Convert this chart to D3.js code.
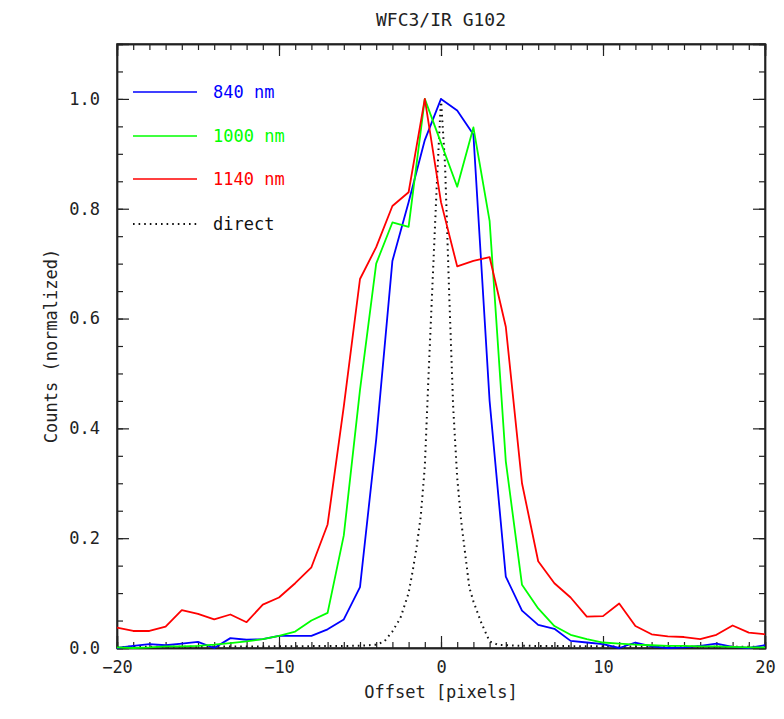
<!DOCTYPE html>
<html>
<head>
<meta charset="utf-8">
<script src="https://cdn.jsdelivr.net/npm/d3@7"></script>
<style>
  body { margin: 0; background: #fff; }
  svg { display: block; font-family: "DejaVu Sans Mono", monospace; }
  .axis path { stroke: #222; stroke-width: 1.4; }
  .axis line { stroke: #222; stroke-width: 1.2; }
  .axis text { font-size: 17px; fill: #222; font-family: "DejaVu Sans Mono", monospace; }
</style>
</head>
<body>
<svg class="chart"></svg>
<script>
const width = 784;
const height = 719;

// pixel offsets (integer samples)
const offsets = d3.range(-20, 21);

const blue840 = [0.0, 0.004, 0.007, 0.005, 0.008, 0.011, 0.0, 0.018, 0.015, 0.016,
  0.022, 0.022, 0.022, 0.034, 0.052, 0.111, 0.38, 0.705, 0.812, 0.925,
  1.0, 0.979, 0.935, 0.45, 0.13, 0.068, 0.042, 0.035, 0.013, 0.01,
  0.007, 0.0, 0.01, 0.003, 0.0, 0.001, 0.004, 0.008, 0.002, 0.0, 0.005];

const green1000 = [0.001, 0.0, 0.001, 0.003, 0.003, 0.004, 0.006, 0.009, 0.012, 0.016,
  0.022, 0.03, 0.05, 0.064, 0.205, 0.47, 0.70, 0.775, 0.767, 1.0,
  0.92, 0.84, 0.948, 0.778, 0.34, 0.115, 0.072, 0.04, 0.024, 0.016,
  0.01, 0.008, 0.006, 0.005, 0.004, 0.004, 0.003, 0.003, 0.002, 0.001, 0.001];

const red1140 = [0.037, 0.031, 0.031, 0.039, 0.069, 0.062, 0.052, 0.061, 0.047, 0.079,
  0.092, 0.118, 0.147, 0.225, 0.44, 0.672, 0.73, 0.805, 0.83, 1.0,
  0.812, 0.695, 0.705, 0.712, 0.585, 0.30, 0.158, 0.118, 0.092, 0.057,
  0.058, 0.081, 0.04, 0.025, 0.021, 0.02, 0.016, 0.024, 0.041, 0.028, 0.025];

// direct image profile (finer sampling)
const directX = [-20, -10, -5, -4, -3.5, -3, -2.5, -2, -1.75, -1.5, -1.25, -1, -0.75, -0.5, -0.25,
  0, 0.25, 0.5, 0.75, 1, 1.25, 1.5, 1.75, 2, 2.5, 3, 3.5, 4, 5, 10, 20];
const directY = [0.002, 0.003, 0.004, 0.006, 0.012, 0.03, 0.055, 0.1, 0.14, 0.185, 0.24, 0.33, 0.51, 0.68, 0.85,
  1.0, 0.88, 0.65, 0.44, 0.31, 0.23, 0.17, 0.11, 0.085, 0.045, 0.012, 0.006, 0.005, 0.004, 0.003, 0.002];

const xMajor = [-20, -10, 0, 10, 20];
const yMajor = [0, 0.2, 0.4, 0.6, 0.8, 1.0];

const series = [
  {name: "840 nm", color: "#0000ff", values: blue840},
  {name: "1000 nm", color: "#00ff00", values: green1000},
  {name: "1140 nm", color: "#ff0000", values: red1140}
];

const margin = {top: 44, right: 19, bottom: 71, left: 117};

const x = d3.scaleLinear().domain([-20, 20]).range([margin.left, width - margin.right]);
const y = d3.scaleLinear().domain([0, 1.1]).range([height - margin.bottom, margin.top]);

const svg = d3.select(".chart")
    .attr("width", width)
    .attr("height", height)
    .attr("viewBox", [0, 0, width, height]);

const fmtX = d => d < 0 ? "\u2212" + Math.abs(d) : String(d);
const yMinor = d3.range(0, 23).map(i => i * 0.05);

// bottom / top axes
svg.append("g").attr("class", "axis xaxis")
    .attr("transform", `translate(0,${y(0)})`)
    .call(d3.axisBottom(x).tickValues(xMajor).tickSize(-12).tickPadding(13).tickFormat(fmtX));
svg.append("g").attr("class", "axis")
    .attr("transform", `translate(0,${y(0)})`)
    .call(d3.axisBottom(x).tickValues(offsets).tickSize(-6).tickFormat(""));
svg.append("g").attr("class", "axis")
    .attr("transform", `translate(0,${y(1.1)})`)
    .call(d3.axisTop(x).tickValues(xMajor).tickSize(-12).tickFormat(""));
svg.append("g").attr("class", "axis")
    .attr("transform", `translate(0,${y(1.1)})`)
    .call(d3.axisTop(x).tickValues(offsets).tickSize(-6).tickFormat(""));

// left / right axes
svg.append("g").attr("class", "axis")
    .attr("transform", `translate(${x(-20)},0)`)
    .call(d3.axisLeft(y).tickValues(yMajor).tickSize(-12).tickPadding(17).tickFormat(d3.format(".1f")));
svg.append("g").attr("class", "axis")
    .attr("transform", `translate(${x(-20)},0)`)
    .call(d3.axisLeft(y).tickValues(yMinor).tickSize(-6).tickFormat(""));
svg.append("g").attr("class", "axis")
    .attr("transform", `translate(${x(20)},0)`)
    .call(d3.axisRight(y).tickValues(yMajor).tickSize(-12).tickFormat(""));
svg.append("g").attr("class", "axis")
    .attr("transform", `translate(${x(20)},0)`)
    .call(d3.axisRight(y).tickValues(yMinor).tickSize(-6).tickFormat(""));

// frame
svg.append("rect")
    .attr("x", x(-20)).attr("y", y(1.1))
    .attr("width", x(20) - x(-20)).attr("height", y(0) - y(1.1))
    .attr("fill", "none").attr("stroke", "#222").attr("stroke-width", 1.5);

const line = d3.line().x(d => x(d[0])).y(d => y(d[1]));

svg.append("path")
    .datum(directX.map((d, i) => [d, directY[i]]))
    .attr("fill", "none")
    .attr("stroke", "#111")
    .attr("stroke-width", 2)
    .attr("stroke-dasharray", "1.6,4")
    .attr("d", line);

series.forEach(s => {
  svg.append("path")
      .datum(offsets.map((d, i) => [d, s.values[i]]))
      .attr("fill", "none")
      .attr("stroke", s.color)
      .attr("stroke-width", 1.8)
      .attr("stroke-linejoin", "round")
      .attr("d", line);
});

// legend
const legend = series.map(s => ({name: s.name, color: s.color, dash: null}))
    .concat([{name: "direct", color: "#111", dash: "1.6,4"}]);
const legendY = [92, 136, 179, 224];

legend.forEach((d, i) => {
  svg.append("line")
      .attr("x1", 133).attr("x2", 197)
      .attr("y1", legendY[i]).attr("y2", legendY[i])
      .attr("stroke", d.color)
      .attr("stroke-width", d.dash ? 2 : 1.6)
      .attr("stroke-dasharray", d.dash);
  svg.append("text")
      .attr("x", 213).attr("y", legendY[i])
      .attr("dy", "0.35em")
      .attr("fill", d.color)
      .style("font-size", "17px")
      .text(d.name);
});

// titles
svg.append("text")
    .attr("x", (x(-20) + x(20)) / 2).attr("y", 26)
    .attr("text-anchor", "middle")
    .style("font-size", "18px").attr("fill", "#222")
    .text("WFC3/IR G102");

svg.append("text")
    .attr("x", (x(-20) + x(20)) / 2).attr("y", 698)
    .attr("text-anchor", "middle")
    .style("font-size", "17px").attr("fill", "#222")
    .text("Offset [pixels]");

svg.append("text")
    .attr("transform", `translate(57,${(y(0) + y(1.1)) / 2}) rotate(-90)`)
    .attr("text-anchor", "middle")
    .style("font-size", "17px").attr("fill", "#222")
    .text("Counts (normalized)");
</script>
</body>
</html>
